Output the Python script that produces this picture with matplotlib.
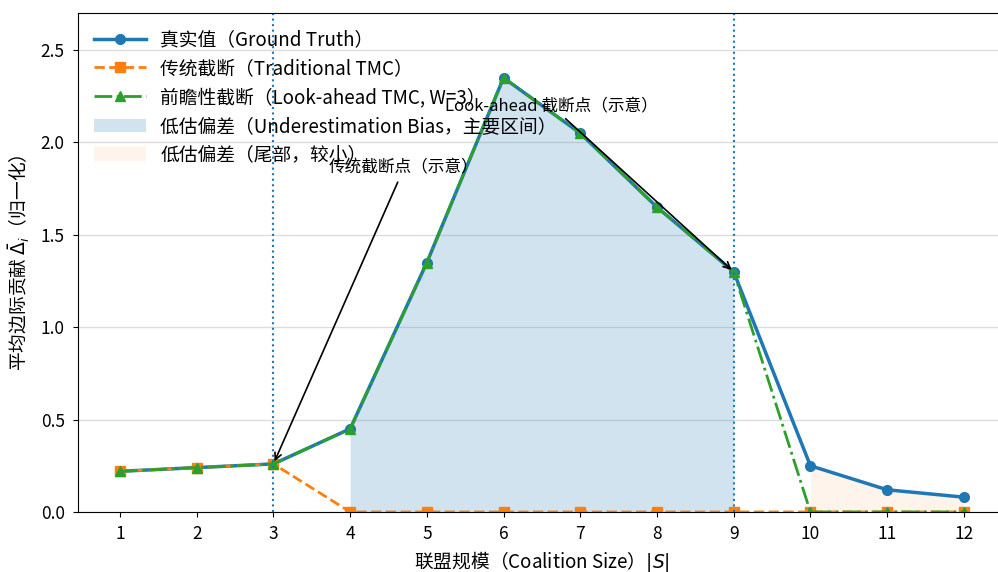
import matplotlib
matplotlib.use("Agg")
import matplotlib.pyplot as plt
import numpy as np

plt.rcParams['font.family'] = ['Noto Sans CJK SC', 'DejaVu Sans']
plt.rcParams['axes.unicode_minus'] = False

# Coalition sizes and average marginal contributions
sizes = [1, 2, 3, 4, 5, 6, 7, 8, 9, 10, 11, 12]
ground_truth = [0.22, 0.24, 0.26, 0.45, 1.35, 2.35, 2.05, 1.65, 1.30, 0.25, 0.12, 0.08]
traditional_tmc = [0.22, 0.24, 0.26, 0.0, 0.0, 0.0, 0.0, 0.0, 0.0, 0.0, 0.0, 0.0]
lookahead_tmc = [0.22, 0.24, 0.26, 0.45, 1.35, 2.35, 2.05, 1.65, 1.30, 0.0, 0.0, 0.0]

trad_cut = 3
look_cut = 9

fig = plt.figure(figsize=(9.98, 5.72), dpi=100)
ax = fig.add_axes([0.078, 0.105, 0.930, 0.872])

x = np.array(sizes)
gt = np.array(ground_truth)
tr = np.array(traditional_tmc)
la = np.array(lookahead_tmc)

# shaded bias regions
main = (x >= 4) & (x <= 9)
tail = x >= 10
ax.fill_between(x[main], tr[main], gt[main], color='#1f77b4', alpha=0.2, linewidth=0,
                label='低估偏差（Underestimation Bias，主要区间）')
ax.fill_between(x[tail], la[tail], gt[tail], color='#ff7f0e', alpha=0.08, linewidth=0,
                label='低估偏差（尾部，较小）')

ax.plot(x, gt, '-o', color='#1f77b4', linewidth=2.5, markersize=7,
        label='真实值（Ground Truth）')
ax.plot(x, tr, '--s', color='#ff7f0e', linewidth=2, markersize=6.5,
        label='传统截断（Traditional TMC）')
ax.plot(x, la, '-.^', color='#2ca02c', linewidth=2, markersize=7,
        label='前瞻性截断（Look-ahead TMC, W=3）')

ax.axvline(trad_cut, color='#1f77b4', linestyle=':', linewidth=1.5)
ax.axvline(look_cut, color='#1f77b4', linestyle=':', linewidth=1.5)

ax.annotate('传统截断点（示意）', xy=(trad_cut, traditional_tmc[trad_cut - 1]),
            xytext=(4.7, 1.86), ha='center', va='center', fontsize=12,
            arrowprops=dict(arrowstyle='->', color='black', lw=1.2))
ax.annotate('Look-ahead 截断点（示意）', xy=(look_cut, lookahead_tmc[look_cut - 1]),
            xytext=(6.62, 2.2), ha='center', va='center', fontsize=12,
            arrowprops=dict(arrowstyle='->', color='black', lw=1.2))

ax.set_xlim(0.45, 12.55)
ax.set_ylim(0, 2.7)
ax.set_xticks(sizes)
ax.set_yticks([0.0, 0.5, 1.0, 1.5, 2.0, 2.5])
ax.tick_params(labelsize=12.5, pad=6)
ax.yaxis.grid(True, color='#dddddd', linewidth=1)
ax.set_axisbelow(True)

ax.set_xlabel('联盟规模（Coalition Size）$|S|$', fontsize=13.5, labelpad=4)
ax.set_ylabel(r'平均边际贡献 $\bar{\Delta}_i$（归一化）', fontsize=13.5, labelpad=6)

handles, labels = ax.get_legend_handles_labels()
order = [2, 3, 4, 0, 1]
ax.legend([handles[i] for i in order], [labels[i] for i in order],
          loc='upper left', frameon=False, fontsize=13.5, handlelength=2.8,
          borderaxespad=0.45, labelspacing=0.42, handletextpad=0.75)

fig.savefig('out.png', dpi=100)
